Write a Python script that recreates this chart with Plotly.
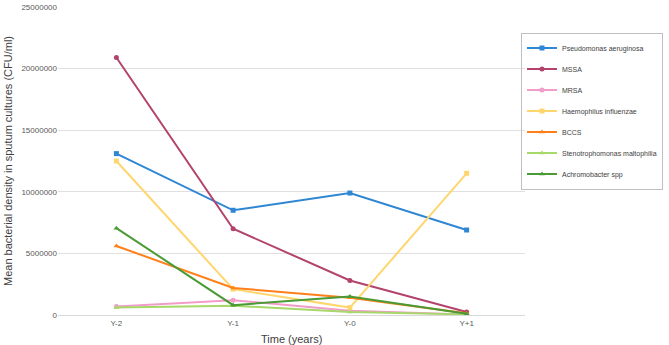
import plotly.graph_objects as go

categories = ["Y-2", "Y-1", "Y-0", "Y+1"]
pseudomonas = [13100000, 8500000, 9900000, 6900000]
mssa = [20900000, 7000000, 2800000, 250000]
mrsa = [700000, 1200000, 350000, 50000]
haemophilus = [12500000, 2100000, 600000, 11500000]
bccs = [5600000, 2200000, 1400000, 150000]
steno = [600000, 750000, 250000, 50000]
achromo = [7050000, 800000, 1500000, 100000]

series = [
    ("Pseudomonas aeruginosa", pseudomonas, "#2F86D3", "square"),
    ("MSSA", mssa, "#B3436C", "circle"),
    ("MRSA", mrsa, "#F29CC9", "circle"),
    ("Haemophilus influenzae", haemophilus, "#FFD66E", "square"),
    ("BCCS", bccs, "#FF7F1A", "triangle-up"),
    ("Stenotrophomonas maltophilia", steno, "#A6D86A", "triangle-up"),
    ("Achromobacter spp", achromo, "#4A9A35", "triangle-up"),
]

fig = go.Figure()
for i, (name, vals, color, sym) in enumerate(series):
    fig.add_trace(go.Scatter(
        x=categories, y=vals, name=name, mode="lines+markers",
        legendgroup=f"g{i}",
        line=dict(color=color, width=2),
        marker=dict(symbol=sym, size=5, color=color),
    ))

fig.update_layout(
    width=669, height=345,
    margin=dict(l=58, r=144, t=7, b=30, autoexpand=False),
    paper_bgcolor="white", plot_bgcolor="white",
    font=dict(family="Liberation Sans, Arial", color="#595959"),
    legend=dict(
        x=0.9914, y=0.917, xanchor="left", yanchor="top",
        bordercolor="#BFBFBF", borderwidth=1, bgcolor="rgba(255,255,255,0)",
        font=dict(size=7, color="#404040"),
        tracegroupgap=2, itemwidth=30,
    ),
    xaxis=dict(
        range=[-0.5, 3.5],
        showgrid=False, showline=True, linecolor="#D9D9D9",
        tickfont=dict(size=8, color="#595959"), ticks="",
    ),
    yaxis=dict(
        range=[0, 25000000], dtick=5000000, tickformat="d",
        showgrid=True, gridcolor="#E0E0E0", zeroline=False,
        tickfont=dict(size=8, color="#595959"), ticks="",
        title=dict(text="Mean bacterial density in sputum cultures (CFU/ml)",
                   font=dict(size=11, color="#404040"), standoff=6),
    ),
    annotations=[dict(
        text="Time (years)", xref="paper", yref="paper", x=0.5, y=0,
        yshift=-24, yanchor="middle", showarrow=False,
        font=dict(size=11, color="#404040"),
    )],
)

fig.write_html("out.html", config={"displayModeBar": False},
               post_script="document.body.style.margin='0';document.body.style.overflow='hidden';")
